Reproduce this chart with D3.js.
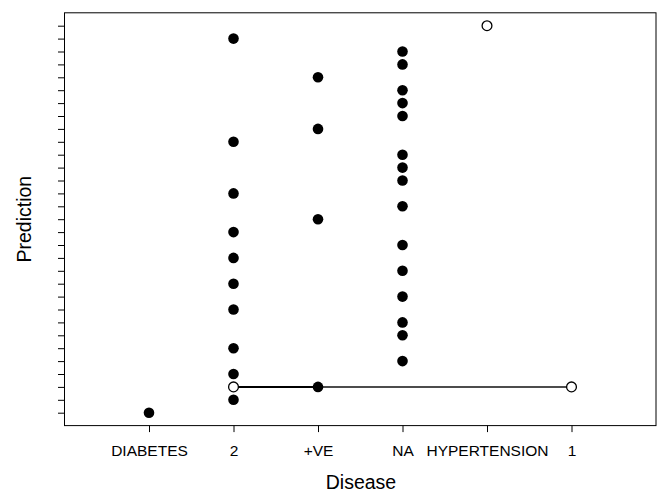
<!DOCTYPE html>
<html>
<head>
<meta charset="utf-8">
<script src="https://cdn.jsdelivr.net/npm/d3@7/dist/d3.min.js"></script>
<style>
  html, body { margin: 0; padding: 0; background: #fff; }
  svg { display: block; font-family: "Liberation Sans", Arial, sans-serif; }
</style>
</head>
<body>
<svg id="chart" width="661" height="492"></svg>
<script>
// ---- data ----
const categories = ["DIABETES", "2", "+VE", "NA", "HYPERTENSION", "1"];
const predictionLevels = [1,2,3,4,5,6,7,8,9,10,11,12,13,14,15,16,17,18,19,20,21,22,23,24,25,26,27,28,29,30,31];

const diabetesFilled = [1];
const twoFilled = [30, 22, 18, 15, 13, 11, 9, 6, 4, 2];
const veFilled = [27, 23, 16, 3];
const naFilled = [29, 28, 26, 25, 24, 21, 20, 19, 17, 14, 12, 10, 8, 7, 5];

const openCategories = ["HYPERTENSION", "2", "1"];
const openValues = [31, 3, 3];

const lineCategoriesA = ["2", "1"];
const lineValuesA = [3, 3];
const lineCategoriesB = ["2", "+VE"];
const lineValuesB = [3, 3];

// ---- layout ----
const mLeft = 64.5, mRight = 656, mTop = 12.8, mBottom = 425.6;

const svg = d3.select("#chart");

const catIndex = c => categories.indexOf(c) + 1;
const x = d3.scaleLinear().domain([0, categories.length + 1]).range([mLeft, mRight]);
const y = d3.scaleLinear().domain([0, predictionLevels.length + 1]).range([mBottom, mTop]);

// frame
svg.append("rect")
  .attr("x", mLeft).attr("y", mTop)
  .attr("width", mRight - mLeft).attr("height", mBottom - mTop)
  .attr("fill", "none").attr("stroke", "#000").attr("stroke-width", 1);

// x axis
const xAxis = d3.axisBottom(x)
  .tickValues(categories.map((c, i) => i + 1))
  .tickFormat(d => categories[d - 1])
  .tickSize(6.5).tickPadding(12);
const gx = svg.append("g").attr("transform", `translate(0,${mBottom})`).call(xAxis);
gx.select(".domain").remove();
gx.selectAll("line").attr("stroke", "#000");
gx.selectAll("text").attr("font-size", "15.5px").attr("fill", "#000")
  .attr("dy", null).attr("y", 30);

// y axis (no labels)
const yAxis = d3.axisLeft(y).tickValues(predictionLevels).tickFormat("").tickSize(6.5);
const gy = svg.append("g").attr("transform", `translate(${mLeft},0)`).call(yAxis);
gy.select(".domain").remove();
gy.selectAll("line").attr("stroke", "#000");

// axis titles
svg.append("text").attr("x", 361).attr("y", 489)
  .attr("text-anchor", "middle").attr("font-size", "19.5px").attr("fill", "#000")
  .text("Disease");
svg.append("text")
  .attr("transform", `translate(31,${(mTop + mBottom) / 2}) rotate(-90)`)
  .attr("text-anchor", "middle").attr("font-size", "19.5px").attr("fill", "#000")
  .text("Prediction");

// lines
const lineGen = d3.line().x(d => x(catIndex(d[0]))).y(d => y(d[1]));
svg.append("path").datum(d3.zip(lineCategoriesA, lineValuesA))
  .attr("d", lineGen).attr("fill", "none").attr("stroke", "#111").attr("stroke-width", 1.5);
svg.append("path").datum(d3.zip(lineCategoriesB, lineValuesB))
  .attr("d", lineGen).attr("fill", "none").attr("stroke", "#000").attr("stroke-width", 2);

// filled points
const filled = [].concat(
  diabetesFilled.map(v => ["DIABETES", v]),
  twoFilled.map(v => ["2", v]),
  veFilled.map(v => ["+VE", v]),
  naFilled.map(v => ["NA", v])
);
svg.append("g").selectAll("circle").data(filled).join("circle")
  .attr("cx", d => x(catIndex(d[0])))
  .attr("cy", d => y(d[1]))
  .attr("r", 5.3)
  .attr("fill", "#000");

// open points
svg.append("g").selectAll("circle").data(d3.zip(openCategories, openValues)).join("circle")
  .attr("cx", d => x(catIndex(d[0])))
  .attr("cy", d => y(d[1]))
  .attr("r", 4.9)
  .attr("fill", "#fff")
  .attr("stroke", "#000").attr("stroke-width", 1.3);
</script>
</body>
</html>
